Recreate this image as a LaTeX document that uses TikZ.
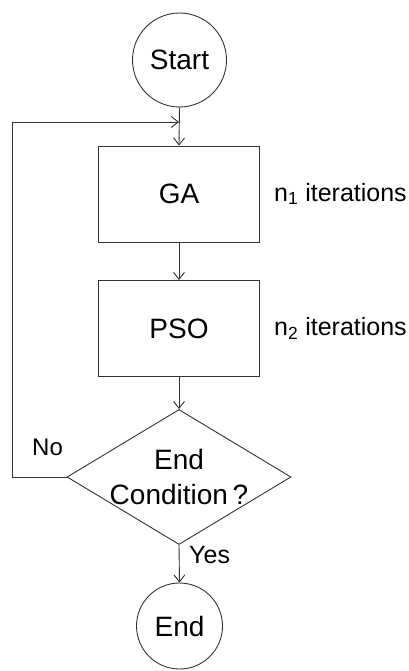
\documentclass[tikz,border=0pt]{standalone}
\usepackage{fontspec}
\setmainfont{Liberation Sans}
\usetikzlibrary{shapes.geometric,arrows.meta}

\tikzset{
  line/.style={draw=black!80, line width=0.9pt},
  flow/.style={line, -{Straight Barb[length=7pt,width=11pt,line width=0.9pt]}},
  terminal/.style={line, circle, inner sep=0pt, font=\fontsize{28}{32}\selectfont},
  process/.style={line, rectangle, inner sep=0pt, minimum width=161pt, minimum height=96pt,
                  font=\fontsize{28}{32}\selectfont},
  decision/.style={line, diamond, inner sep=0pt, minimum width=224pt, minimum height=135pt},
  bigtext/.style={align=center, inner sep=0pt, font=\fontsize{28}{35}\selectfont},
  note/.style={inner sep=0pt, anchor=base west, font=\fontsize{25}{30}\selectfont},
  count/.style={note, font=\fontsize{25}{30}\selectfont},
}

\begin{document}
\begin{tikzpicture}[x=1pt, y=-1pt]
  \useasboundingbox (0,0) rectangle (408,671);

  % nodes of the flow
  \node[terminal, minimum size=94pt] (start) at (179.5,60) {Start};
  \node[process] (ga)  at (179,194)   {GA};
  \node[process] (pso) at (179,328.5) {PSO};
  \node[decision] (cond) at (179,477) {};
  \node[bigtext] (condtext) at (179,477) {End\\Condition\,?};
  \node[terminal, minimum size=86pt] (end) at (179.5,626) {End};

  % iteration counts beside the two stages
  \node[count] (n1) at (274,201)   {n\textsubscript{1} iterations};
  \node[count] (n2) at (274,335.5) {n\textsubscript{2} iterations};

  % helper points of the feedback loop
  \coordinate (merge) at (179,122);
  \coordinate (loopx) at (12,477);

  % connectors
  \draw[flow] (start.south) -- (ga.north);
  \draw[flow] (ga.south) -- (pso.north);
  \draw[flow] (pso.south) -- (cond.north);
  \draw[flow] (cond.south) -- (end.north);
  \draw[flow] (cond.west) -- (loopx) |- (merge);

  % branch labels
  \node[note, font=\fontsize{24}{28}\selectfont] (no)  at (32,455)  {No};
  \node[note] (yes) at (189,563) {Yes};
\end{tikzpicture}
\end{document}
